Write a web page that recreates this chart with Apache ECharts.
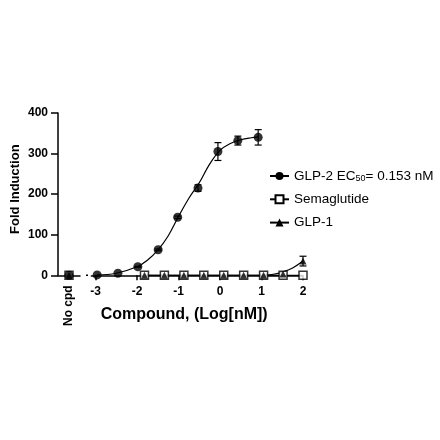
<!DOCTYPE html>
<html>
<head>
<meta charset="utf-8">
<script src="https://cdn.jsdelivr.net/npm/echarts@6/dist/echarts.min.js"></script>
<style>
  html, body { margin: 0; padding: 0; background: #fff; }
  #chart { width: 440px; height: 440px; }
</style>
</head>
<body>
<div id="chart"></div>
<script>
// measured points, x in log10(nM)
const glp2X = [-2.96, -2.46, -1.98, -1.49, -1.02, -0.53, -0.05, 0.43, 0.92];
const glp2Y = [1, 5, 21, 63, 143, 215, 305, 332, 340];
const glp2Err = [0, 0, 1, 2, 3, 8, 22, 11, 19];

const otherX = [-1.82, -1.34, -0.87, -0.39, 0.09, 0.57, 1.05, 1.52, 2.0];
const semaY = [0, 0, 0, 0, 0, 0, 0, 0, 0];
const glp1Y = [0, 0, 0, 0, 0, 0, 0, 3, 35];
const glp1Err = [0, 0, 0, 0, 0, 0, 0, 0, 12];

// fitted curves
const glp2FitX = [-2.97, -2.5, -2, -1.75, -1.5, -1.25, -1, -0.75, -0.5, -0.25, 0, 0.25, 0.5, 0.75, 0.92];
const glp2FitY = [1, 5, 21, 37, 62, 97, 145, 190, 228, 274, 308, 325, 334, 339, 341];
const semaFitX = [-1.82, 2.0];
const semaFitY = [0, 0];
const glp1FitX = [-1.82, 1.0, 1.25, 1.5, 1.75, 2.0];
const glp1FitY = [0, 0, 2, 8, 18, 35];

const noCpd = ['No cpd'];
const noCpdY = [0];
const xTicks = [-3, -2, -1, 0, 1, 2];

const font = '"Liberation Sans", Arial, sans-serif';
const zip = (xs, ys) => xs.map((x, i) => [x, ys[i]]);

const chart = echarts.init(document.getElementById('chart'));

const errData = glp2X.map((x, i) => [x, glp2Y[i] - glp2Err[i], glp2Y[i] + glp2Err[i]])
  .concat(otherX.map((x, i) => [x, glp1Y[i] - glp1Err[i], glp1Y[i] + glp1Err[i]]))
  .filter(d => d[2] - d[1] > 0);

const black = '#000';

chart.setOption({
  animation: false,
  textStyle: { fontFamily: font },
  grid: [
    { left: 58, top: 113, width: 22, bottom: 164.7 },
    { left: 91.35, top: 113, right: 137, bottom: 164.7 }
  ],
  legend: {
    orient: 'vertical',
    left: 264,
    top: 163,
    itemWidth: 19,
    itemHeight: 10,
    itemGap: 9.3,
    data: ['GLP-2', 'Semaglutide', 'GLP-1'],
    formatter: name => name === 'GLP-2' ? 'GLP-2 EC{sub|50}= 0.153 nM' : name,
    textStyle: {
      fontFamily: font,
      fontSize: 13.5,
      color: black,
      lineHeight: 14,
      rich: {
        sub: { fontSize: 9, verticalAlign: 'bottom', padding: [6, 0, 0, 0], lineHeight: 14 }
      }
    }
  },
  xAxis: [
    {
      gridIndex: 0,
      type: 'category',
      data: noCpd,
      axisLine: { lineStyle: { color: black, width: 1.5 } },
      axisTick: { length: 4, lineStyle: { color: black, width: 1.5 } },
      axisLabel: { rotate: 90, margin: 10, fontSize: 12, fontWeight: 'bold', color: black, fontFamily: font }
    },
    {
      gridIndex: 1,
      type: 'value',
      min: -3.1,
      max: 2,
      splitLine: { show: false },
      axisLine: { lineStyle: { color: black, width: 1.5 } },
      axisTick: { length: 5, customValues: xTicks, lineStyle: { color: black, width: 1.5 } },
      axisLabel: { customValues: xTicks, margin: 10, fontSize: 12, fontWeight: 'bold', color: black, fontFamily: font },
      name: 'Compound, (Log[nM])',
      nameLocation: 'middle',
      nameGap: 31,
      nameTextStyle: { fontSize: 16, fontWeight: 'bold', color: black, fontFamily: font, padding: [0, 26, 0, 0] }
    }
  ],
  yAxis: [
    {
      gridIndex: 0,
      type: 'value',
      min: 0,
      max: 400,
      interval: 100,
      splitLine: { show: false },
      axisLine: { show: true, lineStyle: { color: black, width: 1.5 } },
      axisTick: { show: true, length: 7, lineStyle: { color: black, width: 1.5 } },
      axisLabel: { margin: 10, fontSize: 12, fontWeight: 'bold', color: black, fontFamily: font },
      name: 'Fold Induction',
      nameLocation: 'middle',
      nameRotate: 90,
      nameGap: 36,
      nameTextStyle: { fontSize: 13, fontWeight: 'bold', color: black, fontFamily: font, padding: [0, 0, 0, 10] }
    },
    {
      gridIndex: 1,
      type: 'value',
      min: 0,
      max: 400,
      show: false
    }
  ],
  graphic: [
    // small dot in the axis break
    { type: 'rect', shape: { x: 86, y: 274.5, width: 2, height: 1.6 }, style: { fill: black } }
  ],
  series: [
    {
      name: 'GLP-2', type: 'line', xAxisIndex: 1, yAxisIndex: 1,
      data: zip(glp2FitX, glp2FitY), smooth: 0.4, showSymbol: false,
      symbol: 'circle', itemStyle: { color: black },
      lineStyle: { color: black, width: 1.2 }, z: 2
    },
    {
      name: 'Semaglutide', type: 'line', xAxisIndex: 1, yAxisIndex: 1,
      data: zip(semaFitX, semaFitY), showSymbol: false,
      symbol: 'rect', itemStyle: { color: '#fff', borderColor: black, borderWidth: 1.5 },
      lineStyle: { color: black, width: 1.2 }, z: 2
    },
    {
      name: 'GLP-1', type: 'line', xAxisIndex: 1, yAxisIndex: 1,
      data: zip(glp1FitX, glp1FitY), smooth: 0.4, showSymbol: false,
      symbol: 'triangle', itemStyle: { color: black },
      lineStyle: { color: black, width: 1.2 }, z: 2
    },
    {
      name: 'Semaglutide', type: 'scatter', xAxisIndex: 1, yAxisIndex: 1,
      data: zip(otherX, semaY), symbol: 'rect', symbolSize: 8,
      itemStyle: { color: '#fff', borderColor: black, borderWidth: 1.5 }, z: 3
    },
    {
      name: 'GLP-1', type: 'scatter', xAxisIndex: 1, yAxisIndex: 1,
      data: zip(otherX, glp1Y), symbol: 'triangle', symbolSize: 7,
      itemStyle: { color: black }, z: 4
    },
    {
      name: 'GLP-2', type: 'scatter', xAxisIndex: 1, yAxisIndex: 1,
      data: zip(glp2X, glp2Y), symbol: 'circle', symbolSize: 9,
      itemStyle: { color: black }, z: 4
    },
    {
      type: 'custom', xAxisIndex: 1, yAxisIndex: 1, z: 3,
      data: errData,
      renderItem: (params, api) => {
        const top = api.coord([api.value(0), api.value(2)]);
        const bot = api.coord([api.value(0), api.value(1)]);
        const w = 3.5;
        const style = { stroke: black, lineWidth: 1.2 };
        return {
          type: 'group',
          children: [
            { type: 'line', shape: { x1: top[0], y1: top[1], x2: bot[0], y2: bot[1] }, style },
            { type: 'line', shape: { x1: top[0] - w, y1: top[1], x2: top[0] + w, y2: top[1] }, style },
            { type: 'line', shape: { x1: bot[0] - w, y1: bot[1], x2: bot[0] + w, y2: bot[1] }, style }
          ]
        };
      }
    },
    {
      name: 'Semaglutide', type: 'scatter', xAxisIndex: 0, yAxisIndex: 0,
      data: noCpdY, symbol: 'rect', symbolSize: 8,
      itemStyle: { color: '#fff', borderColor: black, borderWidth: 1.5 }, z: 3
    },
    {
      name: 'GLP-2', type: 'scatter', xAxisIndex: 0, yAxisIndex: 0,
      data: noCpdY, symbol: 'circle', symbolSize: 9,
      itemStyle: { color: black }, z: 4
    },
    {
      name: 'GLP-1', type: 'scatter', xAxisIndex: 0, yAxisIndex: 0,
      data: noCpdY, symbol: 'triangle', symbolSize: 7,
      itemStyle: { color: black }, z: 4
    }
  ]
});
</script>
</body>
</html>
